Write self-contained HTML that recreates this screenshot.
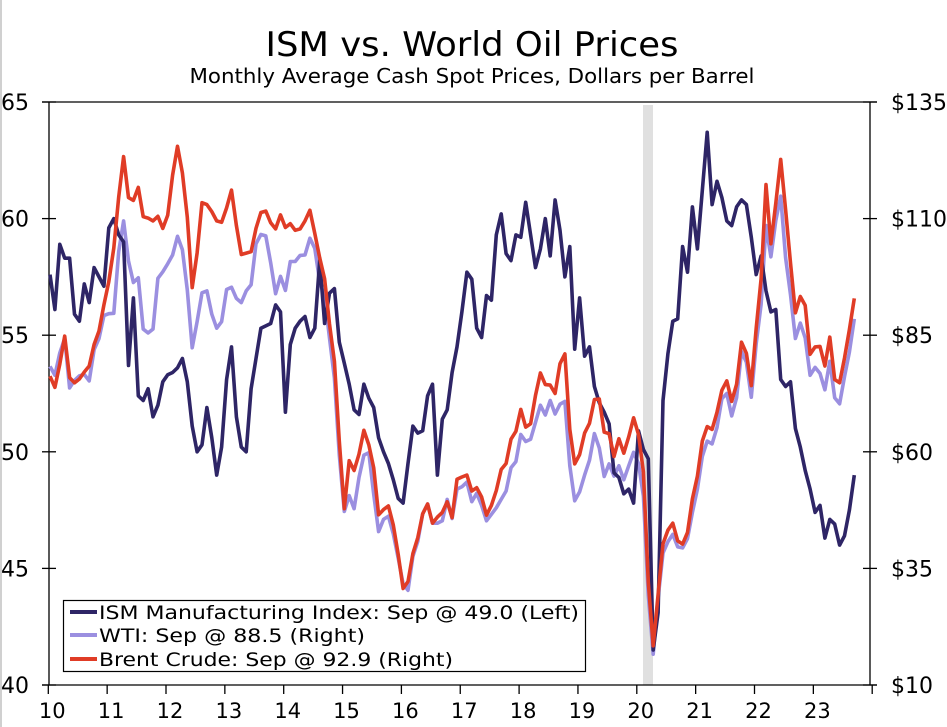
<!DOCTYPE html>
<html><head><meta charset="utf-8"><style>
html,body{margin:0;padding:0;background:#fff;}
svg{display:block;font-family:"DejaVu Sans","Liberation Sans",sans-serif;}
</style></head><body>
<svg id="chart" width="947" height="727" viewBox="0 0 947 727" xmlns="http://www.w3.org/2000/svg">
<rect x="0" y="0" width="2" height="727" fill="#d0d0d0"/>
<text x="472" y="56" text-anchor="middle" font-size="34" textLength="413" lengthAdjust="spacingAndGlyphs">ISM vs. World Oil Prices</text>
<text x="472" y="83" text-anchor="middle" font-size="20" textLength="565" lengthAdjust="spacingAndGlyphs">Monthly Average Cash Spot Prices, Dollars per Barrel</text>
<rect x="643" y="105" width="10" height="580" fill="#e0e0e0"/>
<g id="axes"></g>
<g id="series"></g>
<g>
<rect x="63.5" y="600.5" width="522" height="71" fill="#fff" stroke="#000" stroke-width="1.2"/>
<line x1="70" y1="612" x2="97" y2="612" stroke="#2e2566" stroke-width="4"/>
<text x="99" y="619" font-size="19" textLength="480" lengthAdjust="spacingAndGlyphs">ISM Manufacturing Index: Sep @ 49.0 (Left)</text>
<line x1="70" y1="635" x2="97" y2="635" stroke="#9b8fe0" stroke-width="4"/>
<text x="99" y="642" font-size="19" textLength="266" lengthAdjust="spacingAndGlyphs">WTI: Sep @ 88.5 (Right)</text>
<line x1="70" y1="659" x2="97" y2="659" stroke="#e03c26" stroke-width="4"/>
<text x="99" y="666" font-size="19" textLength="354" lengthAdjust="spacingAndGlyphs">Brent Crude: Sep @ 92.9 (Right)</text>
</g>
</svg>
<script>
const yearLabels = ["10","11","12","13","14","15","16","17","18","19","20","21","22","23"];
const leftTicks = [40,45,50,55,60,65];
const rightTicks = [10,35,60,85,110,135];
const rightTickLabels = ["$10","$35","$60","$85","$110","$135"];
const ism = [
57.6,56.1,58.9,58.3,58.3,55.9,55.6,57.2,56.4,57.9,57.5,57.1,
59.6,60.0,59.3,59.0,53.7,56.6,52.4,52.2,52.7,51.5,52.0,53.0,
53.3,53.4,53.6,54.0,53.0,51.1,50.0,50.3,51.9,50.6,49.0,50.2,
53.1,54.5,51.5,50.2,50.0,52.7,54.0,55.3,55.4,55.5,56.3,56.0,
51.7,54.6,55.3,55.6,55.8,54.9,55.3,58.2,55.5,56.8,57.0,54.7,
53.8,52.9,51.8,51.6,52.9,52.3,51.9,50.6,50.0,49.5,48.8,48.0,
47.8,49.5,51.1,50.8,50.9,52.4,52.9,49.0,51.4,51.8,53.4,54.5,
56.0,57.7,57.4,55.3,54.9,56.7,56.5,59.3,60.2,58.5,58.2,59.3,
59.2,60.7,59.3,57.9,58.7,60.0,58.4,60.8,59.5,57.5,58.8,54.4,
56.6,54.1,54.5,52.8,52.1,51.7,51.2,49.1,48.9,48.2,48.4,47.8,
50.9,50.1,49.7,41.5,43.1,52.2,54.2,55.6,55.7,58.8,57.7,60.5,
58.7,61.2,63.7,60.6,61.6,60.9,59.9,59.7,60.5,60.8,60.6,59.2,
57.6,58.4,56.9,56.0,56.1,53.1,52.8,53.0,51.0,50.2,49.2,48.4,
47.4,47.7,46.3,47.1,46.9,46.0,46.4,47.5,49.0];
const wti = [
78.3,76.4,81.2,84.3,73.7,75.3,76.3,76.6,75.2,81.9,84.3,89.2,
89.6,89.7,102.9,109.5,100.9,96.3,97.3,86.3,85.5,86.3,97.2,98.6,
100.3,102.2,106.2,103.3,94.7,82.3,87.9,94.1,94.5,89.5,86.5,87.9,
94.8,95.3,92.9,92.0,94.5,95.8,104.6,106.6,106.3,100.5,93.9,97.6,
94.6,100.8,100.8,102.1,102.2,105.8,103.6,96.5,93.2,84.4,75.8,59.3,
47.2,50.6,47.8,54.5,59.3,59.8,50.9,42.9,45.5,46.2,42.4,37.2,
31.7,30.3,37.6,40.8,46.7,48.8,44.7,44.7,45.2,49.8,45.7,52.0,
52.5,53.5,49.3,51.1,48.5,45.2,46.6,48.0,49.8,51.6,56.6,57.9,
63.7,62.2,62.7,66.3,70.0,67.9,71.0,68.1,70.2,70.8,57.0,49.5,
51.4,55.0,58.2,63.9,60.8,54.7,57.4,54.8,57.0,54.0,57.0,59.9,
57.5,50.5,29.2,16.6,28.6,38.3,40.7,42.3,39.6,39.4,41.4,47.0,
52.0,59.0,62.3,61.7,65.2,71.4,72.5,67.7,71.6,81.5,79.2,71.7,
83.2,91.6,108.5,101.8,109.6,114.8,101.6,93.7,84.3,87.6,84.4,76.4,
78.1,76.8,73.3,79.4,71.6,70.3,76.1,81.4,88.5];
const brent = [
76.2,73.8,78.8,84.8,75.9,74.8,75.6,77.1,78.4,83.0,85.9,91.5,
96.5,103.7,114.6,123.3,114.5,113.9,116.7,110.4,110.1,109.5,110.5,107.9,
110.7,119.3,125.5,119.8,110.3,95.2,102.6,113.4,113.0,111.5,109.5,109.2,
112.3,116.1,108.5,102.3,102.6,102.9,107.9,111.3,111.6,109.1,107.8,110.8,
108.1,108.9,107.5,107.8,109.5,111.8,106.8,101.6,97.1,87.4,79.4,62.3,
47.8,58.1,56.0,59.5,64.6,61.5,56.6,46.5,47.6,48.4,44.3,38.0,
30.7,32.2,38.2,41.6,46.7,48.8,44.7,46.0,47.0,49.3,45.9,54.1,
54.6,55.0,51.6,52.3,50.3,46.4,48.5,51.7,56.2,57.5,62.7,64.4,
69.1,65.3,66.0,72.1,76.9,74.4,74.3,72.5,78.9,81.0,64.8,57.4,
59.4,64.0,66.1,71.2,71.3,64.2,63.9,59.0,62.8,59.7,63.2,67.3,
63.7,55.7,32.0,18.4,29.4,40.3,43.2,44.7,40.9,40.2,42.7,49.9,
54.8,62.3,65.4,64.8,68.5,73.2,75.2,70.8,74.5,83.5,81.1,74.2,
86.5,97.1,117.3,104.6,113.3,122.7,111.9,100.5,89.8,93.3,91.4,80.9,
82.5,82.6,78.4,84.6,75.5,74.8,80.1,86.2,92.9];

const NS = "http://www.w3.org/2000/svg";
const L = 49, R = 870, T = 102, B = 685;
const monthW = 58.85/12;
function xMonth(i){ return 50 + i*monthW; }
function xYear(k){ return 48.3 + k*58.85; }
function yLeft(v){ return B - (v-40)/(65-40)*(B-T); }
function yRight(v){ return B - (v-10)/(135-10)*(B-T); }
function mk(tag, attrs, parent){ const e=document.createElementNS(NS,tag); for(const k in attrs) e.setAttribute(k,attrs[k]); parent.appendChild(e); return e; }

const axes = document.getElementById('axes');
let e;
e = mk('line',{x1:42,y1:T,x2:R+7,y2:T,stroke:'#000','stroke-width':1.3},axes);


e = mk('line',{x1:L,y1:T,x2:L,y2:B,stroke:'#000','stroke-width':1.3},axes);


e = mk('line',{x1:R,y1:T,x2:R,y2:B,stroke:'#000','stroke-width':1.3},axes);


e = mk('line',{x1:42,y1:B,x2:R+7,y2:B,stroke:'#000','stroke-width':1.3},axes);



leftTicks.forEach(v=>{
  const y=yLeft(v);
  e = mk('line',{x1:42,y1:y,x2:56,y2:y,stroke:'#000','stroke-width':1.3},axes);
  
  
  e = mk('text',{x:15,y:y+8,'font-size':22,'text-anchor':'middle'},axes);
  e.textContent = String(v);
  
  
});
rightTicks.forEach((v,k)=>{
  const y=yRight(v);
  e = mk('line',{x1:R-7,y1:y,x2:R+7,y2:y,stroke:'#000','stroke-width':1.3},axes);
  
  
  e = mk('text',{x:891,y:y+8,'font-size':22},axes);
  e.textContent = rightTickLabels[k];
  
  
});
for(let k=0;k<=14;k++){
  const x=xYear(k);
  e = mk('line',{x1:x,y1:B,x2:x,y2:B+9,stroke:'#000','stroke-width':1.3},axes);
  
  
  if(k<yearLabels.length){
    e = mk('text',{x:x+4,y:B+33,'font-size':21,'text-anchor':'middle'},axes);
    e.textContent = yearLabels[k];
    
    
  }
}

const series = document.getElementById('series');
function drawLine(vals, yf, color, name){
  const d = vals.map((v,i)=>(i?'L':'M')+xMonth(i).toFixed(1)+' '+yf(v).toFixed(1)).join(' ');
  const p = mk('path',{d:d,fill:'none',stroke:color,'stroke-width':3.6,'stroke-linejoin':'round'},series);
  
  
}
drawLine(wti, yRight, '#9b8fe0', 'wti-line');
drawLine(ism, yLeft, '#2e2566', 'ism-line');
drawLine(brent, yRight, '#e03c26', 'brent-line');
</script>
</body></html>
